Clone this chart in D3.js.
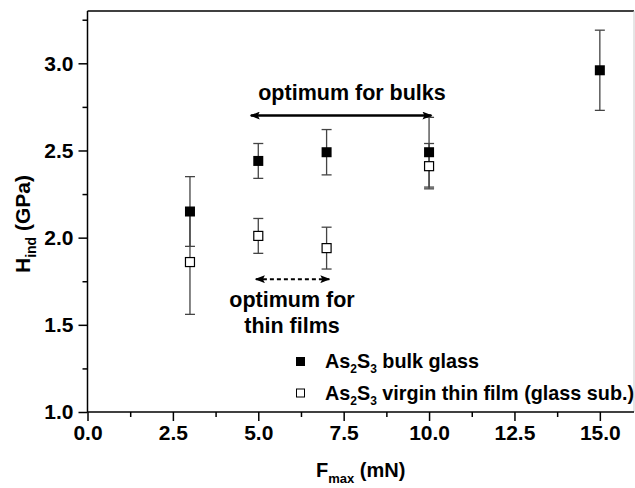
<!DOCTYPE html>
<html><head><meta charset="utf-8">
<script src="https://cdn.jsdelivr.net/npm/d3@7"></script>
<style>
html,body{margin:0;padding:0;background:#fff;}
svg{display:block;font-family:"Liberation Sans",Arial,sans-serif;font-weight:bold;}
</style></head>
<body>
<svg id="c" width="635" height="488"></svg>
<script>
// ---- data ----
const bulkX = [3, 5, 7, 10, 15];
const bulkY = [2.15, 2.44, 2.49, 2.49, 2.96];
const bulkErr = [0.20, 0.10, 0.13, 0.20, 0.23];
const filmX = [3, 5, 7, 10];
const filmY = [1.86, 2.01, 1.94, 2.41];
const filmErr = [0.30, 0.10, 0.12, 0.13];
const xTicks = [0, 2.5, 5, 7.5, 10, 12.5, 15];
const yTicks = [1.0, 1.5, 2.0, 2.5, 3.0];
const xMinor = [1.25, 3.75, 6.25, 8.75, 11.25, 13.75];
const yMinor = [1.25, 1.75, 2.25, 2.75, 3.25];
const bulkArrow = [4.78, 10.07, 2.70];
const filmArrow = [4.93, 7.08, 1.762];

const svg = d3.select("#c");
const L = 87.5, R = 634, T = 11, B = 412;
const x = d3.scaleLinear().domain([0, 16]).range([L, R]);
const y = d3.scaleLinear().domain([1.0, 3.3]).range([B, T]);

// frame
svg.append("line").attr("x1", L).attr("x2", R).attr("y1", T).attr("y2", T).attr("stroke", "#000").attr("stroke-width", 1.5);
svg.append("line").attr("x1", R).attr("x2", R).attr("y1", T).attr("y2", B).attr("stroke", "#ccc").attr("stroke-width", 1);

// axes
const xAxis = svg.append("g").attr("transform", `translate(0,${B})`)
  .call(d3.axisBottom(x).tickValues(xTicks).tickFormat(d3.format(".1f")).tickSize(9).tickPadding(4));
const xAxisMin = svg.append("g").attr("transform", `translate(0,${B})`)
  .call(d3.axisBottom(x).tickValues(xMinor).tickFormat("").tickSize(5));
const yAxis = svg.append("g").attr("transform", `translate(${L},0)`)
  .call(d3.axisLeft(y).tickValues(yTicks).tickFormat(d3.format(".1f")).tickSize(9).tickPadding(5));
const yAxisMin = svg.append("g").attr("transform", `translate(${L},0)`)
  .call(d3.axisLeft(y).tickValues(yMinor).tickFormat("").tickSize(5));
[xAxis, xAxisMin, yAxis, yAxisMin].forEach(g => {
  g.selectAll(".domain").attr("stroke", "#000").attr("stroke-width", 1.5);
  g.selectAll(".tick line").attr("stroke", "#000").attr("stroke-width", 1.5);
  g.selectAll("text").attr("font-size", 21).attr("font-weight", "bold").attr("fill", "#000")
    .attr("font-family", "Liberation Sans, Arial, sans-serif");
});
xAxisMin.select(".domain").remove();
yAxisMin.select(".domain").remove();
xAxis.select(".domain").attr("d", `M${L},0H${R}`);
yAxis.select(".domain").attr("d", `M0,${B}V${T}`);

// axis titles
const xt = svg.append("text").attr("x", (L + R) / 2).attr("y", 477).attr("text-anchor", "middle").attr("font-size", 20);
xt.append("tspan").text("F");
xt.append("tspan").attr("font-size", 13).attr("dy", 6).text("max");
xt.append("tspan").attr("dy", -6).text(" (mN)");

const yt = svg.append("text").attr("transform", `translate(30,224) rotate(-90)`).attr("text-anchor", "middle").attr("font-size", 21);
yt.append("tspan").text("H");
yt.append("tspan").attr("font-size", 14).attr("dy", 6).text("ind");
yt.append("tspan").attr("dy", -6).text(" (GPa)");

// error bars
function errBars(xs, ys, es) {
  const g = svg.append("g").attr("stroke", "#444").attr("stroke-width", 1.3);
  xs.forEach((xv, i) => {
    const cx = x(xv), y0 = y(ys[i] - es[i]), y1 = y(ys[i] + es[i]);
    g.append("line").attr("x1", cx).attr("x2", cx).attr("y1", y0).attr("y2", y1);
    g.append("line").attr("x1", cx - 5).attr("x2", cx + 5).attr("y1", y0).attr("y2", y0);
    g.append("line").attr("x1", cx - 5).attr("x2", cx + 5).attr("y1", y1).attr("y2", y1);
  });
}
errBars(filmX, filmY, filmErr);
errBars(bulkX, bulkY, bulkErr);

const S = 9;
svg.append("g").selectAll("rect").data(filmX).join("rect")
  .attr("x", d => x(d) - S / 2).attr("y", (d, i) => y(filmY[i]) - S / 2)
  .attr("width", S).attr("height", S).attr("fill", "#fff").attr("stroke", "#000").attr("stroke-width", 1.2);
svg.append("g").selectAll("rect").data(bulkX).join("rect")
  .attr("x", d => x(d) - S / 2 - 0.5).attr("y", (d, i) => y(bulkY[i]) - S / 2 - 0.5)
  .attr("width", S + 1).attr("height", S + 1).attr("fill", "#000");

// arrows
const defs = svg.append("defs");
defs.append("marker").attr("id", "ah").attr("viewBox", "0 0 10 8").attr("refX", 9).attr("refY", 4)
  .attr("markerWidth", 10).attr("markerHeight", 8).attr("markerUnits", "userSpaceOnUse").attr("orient", "auto-start-reverse")
  .append("path").attr("d", "M0,0L10,4L0,8L2,4Z").attr("fill", "#000");
defs.append("marker").attr("id", "ah2").attr("viewBox", "0 0 10 8").attr("refX", 9).attr("refY", 4)
  .attr("markerWidth", 12).attr("markerHeight", 8).attr("markerUnits", "userSpaceOnUse").attr("orient", "auto-start-reverse")
  .append("path").attr("d", "M0,0L10,4L0,8L2,4Z").attr("fill", "#000");

svg.append("line").attr("x1", x(bulkArrow[0])).attr("x2", x(bulkArrow[1])).attr("y1", y(bulkArrow[2])).attr("y2", y(bulkArrow[2]))
  .attr("stroke", "#000").attr("stroke-width", 2.5).attr("marker-start", "url(#ah2)").attr("marker-end", "url(#ah2)");
svg.append("line").attr("x1", x(filmArrow[0])).attr("x2", x(filmArrow[1])).attr("y1", y(filmArrow[2])).attr("y2", y(filmArrow[2]))
  .attr("stroke", "#000").attr("stroke-width", 2).attr("stroke-dasharray", "4,3")
  .attr("marker-start", "url(#ah)").attr("marker-end", "url(#ah)");

svg.append("text").attr("x", 352).attr("y", 100).attr("text-anchor", "middle").attr("font-size", 21.5).text("optimum for bulks");
svg.append("text").attr("x", 292).attr("y", 307).attr("text-anchor", "middle").attr("font-size", 21.5).text("optimum for");
svg.append("text").attr("x", 292).attr("y", 333).attr("text-anchor", "middle").attr("font-size", 21.5).text("thin films");

// legend
function legendLabel(ty, rest) {
  const t = svg.append("text").attr("x", 325).attr("y", ty).attr("font-size", 19.8);
  t.append("tspan").text("As");
  t.append("tspan").attr("font-size", 12).attr("dy", 5).text("2");
  t.append("tspan").attr("dy", -5).text("S");
  t.append("tspan").attr("font-size", 12).attr("dy", 5).text("3");
  t.append("tspan").attr("dy", -5).text(rest);
}
svg.append("rect").attr("x", 296).attr("y", 357).attr("width", 9).attr("height", 9).attr("fill", "#000");
svg.append("rect").attr("x", 296.5).attr("y", 389).attr("width", 8).attr("height", 8).attr("fill", "#fff").attr("stroke", "#000").attr("stroke-width", 1);
legendLabel(368, " bulk glass");
legendLabel(400, " virgin thin film (glass sub.)");
</script>
</body></html>
